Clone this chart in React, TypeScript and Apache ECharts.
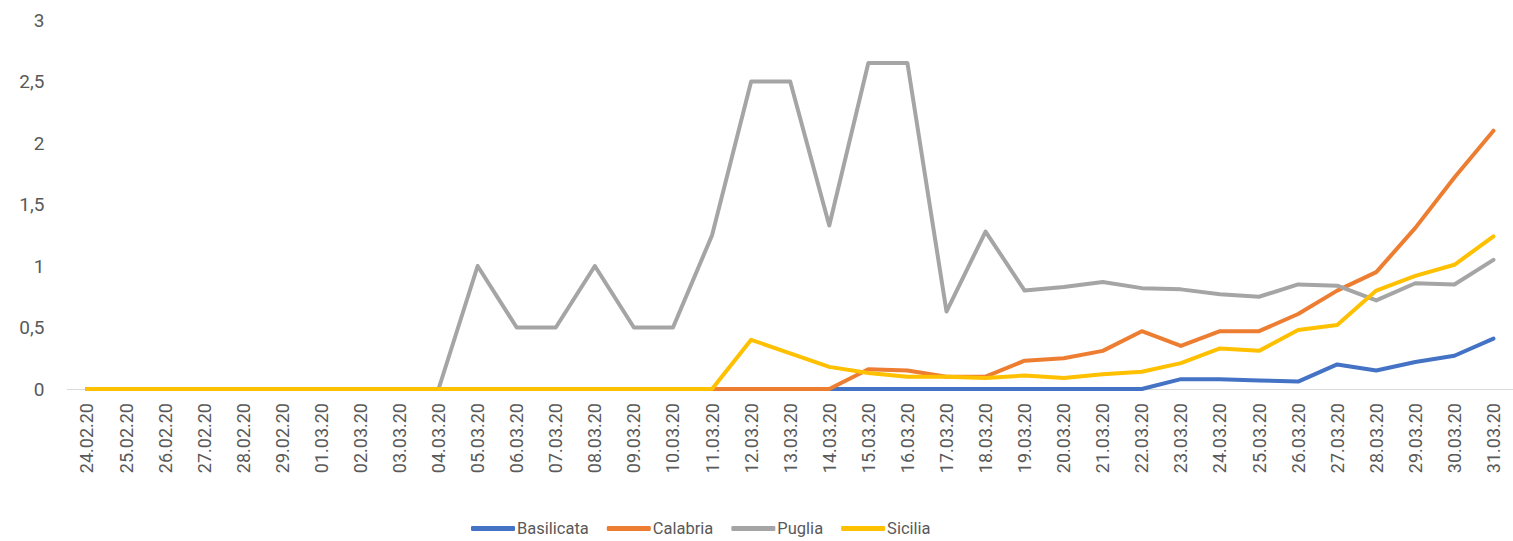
import React, { useEffect, useRef } from "react";
import * as echarts from "echarts";

const categories = [
  "24.02.20", "25.02.20", "26.02.20", "27.02.20", "28.02.20", "29.02.20",
  "01.03.20", "02.03.20", "03.03.20", "04.03.20", "05.03.20", "06.03.20",
  "07.03.20", "08.03.20", "09.03.20", "10.03.20", "11.03.20", "12.03.20",
  "13.03.20", "14.03.20", "15.03.20", "16.03.20", "17.03.20", "18.03.20",
  "19.03.20", "20.03.20", "21.03.20", "22.03.20", "23.03.20", "24.03.20",
  "25.03.20", "26.03.20", "27.03.20", "28.03.20", "29.03.20", "30.03.20",
  "31.03.20",
];

const basilicata = [
  0, 0, 0, 0, 0, 0, 0, 0, 0, 0, 0, 0, 0, 0, 0, 0, 0, 0, 0, 0, 0, 0, 0, 0, 0, 0, 0, 0,
  0.08, 0.08, 0.07, 0.06, 0.2, 0.15, 0.22, 0.27, 0.41,
];

const calabria = [
  0, 0, 0, 0, 0, 0, 0, 0, 0, 0, 0, 0, 0, 0, 0, 0, 0, 0, 0, 0,
  0.16, 0.15, 0.1, 0.1, 0.23, 0.25, 0.31, 0.47, 0.35, 0.47, 0.47, 0.61, 0.8, 0.95,
  1.31, 1.72, 2.1,
];

const puglia = [
  0, 0, 0, 0, 0, 0, 0, 0, 0, 0,
  1, 0.5, 0.5, 1, 0.5, 0.5, 1.25, 2.5, 2.5, 1.33, 2.65, 2.65, 0.63, 1.28, 0.8, 0.83,
  0.87, 0.82, 0.81, 0.77, 0.75, 0.85, 0.84, 0.72, 0.86, 0.85, 1.05,
];

const sicilia = [
  0, 0, 0, 0, 0, 0, 0, 0, 0, 0, 0, 0, 0, 0, 0, 0, 0,
  0.4, 0.29, 0.18, 0.13, 0.1, 0.1, 0.09, 0.11, 0.09, 0.12, 0.14, 0.21, 0.33, 0.31,
  0.48, 0.52, 0.8, 0.92, 1.01, 1.24,
];

const seriesNames = ["Basilicata", "Calabria", "Puglia", "Sicilia"];
const seriesColors = ["#4472C4", "#ED7D31", "#A5A5A5", "#FFC000"];
const seriesData = [basilicata, calabria, puglia, sicilia];

const FONT = "Roboto";
const TEXT_COLOR = "#595959";

export default function App() {
  const ref = useRef<HTMLDivElement>(null);

  useEffect(() => {
    document.body.style.margin = "0";
    if (!ref.current) return;
    const chart = echarts.init(ref.current, null, { renderer: "svg" });
    chart.setOption({
      animation: false,
      backgroundColor: "#ffffff",
      grid: { left: 67.4, top: 20, width: 1449.3, height: 369, containLabel: false },
      legend: {
        left: 466,
        top: 515,
        itemWidth: 44,
        itemHeight: 5,
        itemGap: 18,
        icon: "roundRect",
        textStyle: { fontFamily: FONT, fontSize: 16.5, color: TEXT_COLOR, padding: [0, 0, 0, -3] },
        data: seriesNames,
      },
      xAxis: {
        type: "category",
        data: categories,
        boundaryGap: true,
        axisLine: { show: true, lineStyle: { color: "#D9D9D9", width: 1 } },
        axisTick: { show: false },
        axisLabel: {
          rotate: 90,
          interval: 0,
          margin: 14,
          fontFamily: FONT,
          fontSize: 18,
          color: TEXT_COLOR,
        },
        splitLine: { show: false },
      },
      yAxis: {
        type: "value",
        min: 0,
        max: 3,
        interval: 0.5,
        axisLine: { show: false },
        axisTick: { show: false },
        splitLine: { show: false },
        axisLabel: {
          margin: 23,
          fontFamily: FONT,
          fontSize: 19,
          color: TEXT_COLOR,
          formatter: (v: number) => String(v).replace(".", ","),
        },
      },
      series: seriesNames.map((name, i) => ({
        name,
        type: "line",
        data: seriesData[i],
        symbol: "none",
        color: seriesColors[i],
        lineStyle: { width: 4, color: seriesColors[i], cap: "round", join: "round" },
        itemStyle: { color: seriesColors[i] },
      })),
    });
    return () => chart.dispose();
  }, []);

  return <div ref={ref} style={{ width: 1513, height: 541 }} />;
}
